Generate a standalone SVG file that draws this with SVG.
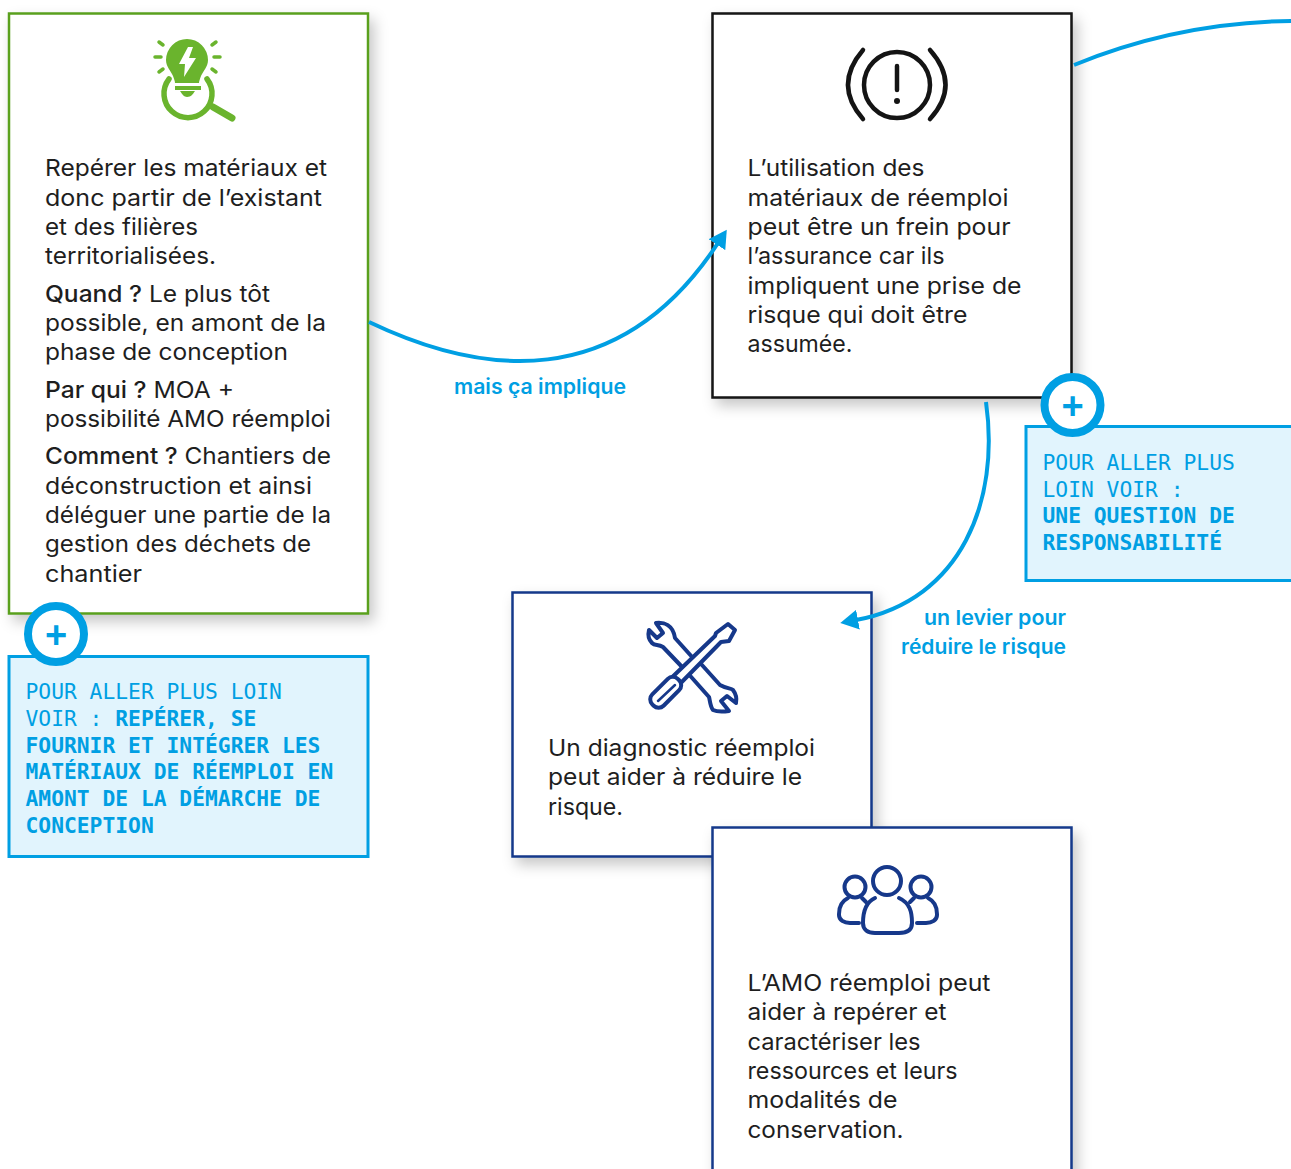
<svg xmlns="http://www.w3.org/2000/svg" width="1291" height="1169" viewBox="0 0 1291 1169">
<defs>
<filter id="sh" x="-10%" y="-10%" width="125%" height="125%"><feDropShadow dx="5" dy="7" stdDeviation="7" flood-color="#000" flood-opacity="0.22"/></filter>
<marker id="arr" viewBox="0 0 18 20" refX="2" refY="10" markerWidth="18" markerHeight="20" markerUnits="userSpaceOnUse" orient="auto"><path d="M18,10 L0,0 L0,20 Z" fill="#009fe3"/></marker>
</defs>
<style>
.card{fill:#fff;stroke-width:2.5;filter:url(#sh)}
.t{font-family:"Inter","Noto Sans",sans-serif;font-size:23px;fill:#1e1e1e}
.t .b{font-weight:500}
.m{font-family:"DejaVu Sans Mono","Liberation Mono",monospace;font-size:21.3px;fill:#009fe3}
.m .b{font-weight:700}
.l{font-family:"Inter","Noto Sans",sans-serif;font-size:20.5px;font-weight:600;fill:#009fe3}
.co{fill:#e1f4fd;stroke:#009fe3;stroke-width:3}
.ci{fill:#fff;stroke:#009fe3;stroke-width:8}
.pl{font-family:"Liberation Sans",sans-serif;font-size:38px;font-weight:700;fill:#009fe3;text-anchor:middle}
.c{fill:none;stroke:#009fe3;stroke-width:4}
.nv{fill:none;stroke:#16388a;stroke-width:4;stroke-linejoin:round;stroke-linecap:round}
.gr{fill:none;stroke:#6ab42d;stroke-linecap:round}
.bk{fill:none;stroke:#141414;stroke-width:4.5;stroke-linecap:round}
</style>

<g id="node-blue-diagnostic">
<rect class="card" x="512.5" y="592.5" width="359" height="264" stroke="#16388a"/>
<g>
<path class="nv" d="M656,623 C664,622 673,625 675,638 L693,658 L702,665 L720,685 C727,689 731,688 733,690 C736,694 737,698 736,703 L727,696 L721,701 L729,711 C722,712 717,712 713,710 C710,706 710,700 709,697 L685,670 L663,647 C658,644 655,646 652,643 C648,639 648,634 649,630 L657,638 L663,633 Z"/>
<path class="nv" style="fill:#fff" d="M728,624 L735,630 L729,641 L721,642 L672,692 L664,685 L715,636 L716,633 Z"/>
<rect class="nv" style="fill:#fff" x="648" y="685" width="36" height="16" rx="7" transform="rotate(-45 665 693)"/>
<path class="nv" style="stroke-width:2.500" d="M675,685 L658,701"/>
</g>
<text class="t" x="548" y="756" textLength="267" lengthAdjust="spacingAndGlyphs">Un diagnostic réemploi</text>
<text class="t" x="548" y="785" textLength="254" lengthAdjust="spacingAndGlyphs">peut aider à réduire le</text>
<text class="t" x="548" y="815" textLength="75" lengthAdjust="spacingAndGlyphs">risque.</text>
</g>

<g id="node-green">
<rect class="card" x="9" y="13.5" width="359" height="600" stroke="#5aa01f"/>
<g>
<path fill="#6ab42d" d="M166,60 a21,21 0 1 1 42,0 c0,7 -5,11 -7,16 c-1,3 -2,5 -2,7 h-24 c0,-2 -1,-4 -2,-7 c-2,-5 -7,-9 -7,-16z"/>
<path fill="#fff" d="M188,47 L179,64 L185,64 L184,77 L196,58 L189,58 L193,47 Z"/>
<rect x="175" y="86" width="26" height="4" fill="#6ab42d"/>
<path fill="#6ab42d" d="M180,91 h15 c-2,3 -4,6 -8,6 c-3,0 -5,-3 -7,-6z"/>
<path class="gr" stroke-width="5.500" d="M169,79 A24,24 0 1 0 207,79"/>
<path class="gr" stroke-width="7" d="M213,107 L232,118"/>
<path class="gr" stroke-width="3.500" d="M159,42 L163,45 M155,57 L161,57 M159,72 L163,69 M216,42 L212,45 M220,57 L214,57 M216,72 L212,69"/>
</g>
<text class="t" x="45" y="176" textLength="282" lengthAdjust="spacingAndGlyphs">Repérer les matériaux et</text>
<text class="t" x="45" y="206" textLength="277" lengthAdjust="spacingAndGlyphs">donc partir de l’existant</text>
<text class="t" x="45" y="235" textLength="153" lengthAdjust="spacingAndGlyphs">et des filières</text>
<text class="t" x="45" y="264" textLength="171" lengthAdjust="spacingAndGlyphs">territorialisées.</text>
<text class="t" x="45" y="302" textLength="225" lengthAdjust="spacingAndGlyphs"><tspan class="b">Quand ?</tspan> Le plus tôt</text>
<text class="t" x="45" y="331" textLength="281" lengthAdjust="spacingAndGlyphs">possible, en amont de la</text>
<text class="t" x="45" y="360" textLength="243" lengthAdjust="spacingAndGlyphs">phase de conception</text>
<text class="t" x="45" y="398" textLength="189" lengthAdjust="spacingAndGlyphs"><tspan class="b">Par qui ?</tspan> MOA +</text>
<text class="t" x="45" y="427" textLength="286" lengthAdjust="spacingAndGlyphs">possibilité AMO réemploi</text>
<text class="t" x="45" y="464" textLength="286" lengthAdjust="spacingAndGlyphs"><tspan class="b">Comment ?</tspan> Chantiers de</text>
<text class="t" x="45" y="494" textLength="267" lengthAdjust="spacingAndGlyphs">déconstruction et ainsi</text>
<text class="t" x="45" y="523" textLength="286" lengthAdjust="spacingAndGlyphs">déléguer une partie de la</text>
<text class="t" x="45" y="552" textLength="266" lengthAdjust="spacingAndGlyphs">gestion des déchets de</text>
<text class="t" x="45" y="581.500" textLength="97" lengthAdjust="spacingAndGlyphs">chantier</text>
</g>

<g id="node-black">
<rect class="card" x="712.5" y="13.5" width="359" height="384" stroke="#141414"/>
<g>
<circle class="bk" cx="897" cy="85" r="33"/>
<path class="bk" d="M897,66 L897,90 M863,50 Q833,85 863,119 M930,50 Q961,85 930,119"/>
<circle cx="897" cy="101" r="3" fill="#141414"/>
</g>
<text class="t" x="747.500" y="176" textLength="177" lengthAdjust="spacingAndGlyphs">L’utilisation des</text>
<text class="t" x="747.500" y="206" textLength="261" lengthAdjust="spacingAndGlyphs">matériaux de réemploi</text>
<text class="t" x="747.500" y="235" textLength="263" lengthAdjust="spacingAndGlyphs">peut être un frein pour</text>
<text class="t" x="747.500" y="264" textLength="197" lengthAdjust="spacingAndGlyphs">l’assurance car ils</text>
<text class="t" x="747.500" y="294" textLength="274" lengthAdjust="spacingAndGlyphs">impliquent une prise de</text>
<text class="t" x="747.500" y="323" textLength="220" lengthAdjust="spacingAndGlyphs">risque qui doit être</text>
<text class="t" x="747.500" y="352" textLength="105" lengthAdjust="spacingAndGlyphs">assumée.</text>
</g>

<g id="node-blue-amo">
<rect class="card" x="712.5" y="827.5" width="359" height="360" stroke="#16388a"/>
<g>
<circle class="nv" cx="887" cy="881" r="14"/>
<circle class="nv" cx="855" cy="887" r="10.500"/>
<circle class="nv" cx="921" cy="887" r="10.500"/>
<path class="nv" d="M875,898 C864,903 863,915 863,923 C863,930 868,933 875,933 H899 C907,933 912,930 912,923 C912,912 910,903 899,898"/>
<path class="nv" d="M848,898 C838,903 839,912 839,915 C839,920 844,923 850,923 H859 M862,898 L866,902"/>
<path class="nv" d="M928,898 C938,903 937,912 937,915 C937,920 932,923 926,923 H917 M914,898 L910,902"/>
</g>
<text class="t" x="747.500" y="991" textLength="243" lengthAdjust="spacingAndGlyphs">L’AMO réemploi peut</text>
<text class="t" x="747.500" y="1020" textLength="199" lengthAdjust="spacingAndGlyphs">aider à repérer et</text>
<text class="t" x="747.500" y="1050" textLength="173" lengthAdjust="spacingAndGlyphs">caractériser les</text>
<text class="t" x="747.500" y="1079" textLength="210" lengthAdjust="spacingAndGlyphs">ressources et leurs</text>
<text class="t" x="747.500" y="1108" textLength="150" lengthAdjust="spacingAndGlyphs">modalités de</text>
<text class="t" x="747.500" y="1138" textLength="156" lengthAdjust="spacingAndGlyphs">conservation.</text>
</g>

<g id="note-left">
<rect class="co" x="9" y="656.5" width="359" height="200"/>
<circle class="ci" cx="56" cy="634" r="28"/>
<text class="pl" x="56" y="648">+</text>
<text class="m" x="25.500" y="699">POUR ALLER PLUS LOIN</text>
<text class="m" x="25.500" y="726">VOIR : <tspan class="b">REPÉRER, SE</tspan></text>
<text class="m" style="font-weight:700" x="25.500" y="752.500">FOURNIR ET INTÉGRER LES</text>
<text class="m" style="font-weight:700" x="25.500" y="779">MATÉRIAUX DE RÉEMPLOI EN</text>
<text class="m" style="font-weight:700" x="25.500" y="806">AMONT DE LA DÉMARCHE DE</text>
<text class="m" style="font-weight:700" x="25.500" y="833">CONCEPTION</text>
</g>

<g id="note-right">
<rect class="co" x="1026" y="426.5" width="275" height="154"/>
<circle class="ci" cx="1072.500" cy="405" r="28"/>
<text class="pl" x="1072.500" y="419">+</text>
<text class="m" x="1042.500" y="469.500">POUR ALLER PLUS</text>
<text class="m" x="1042.500" y="496.500">LOIN VOIR :</text>
<text class="m" style="font-weight:700" x="1042.500" y="522.500">UNE QUESTION DE</text>
<text class="m" style="font-weight:700" x="1042.500" y="549.500">RESPONSABILITÉ</text>
</g>

<g id="connectors">
<path class="c" marker-end="url(#arr)" d="M369,322 C480,375 618,395 718,243"/>
<path class="c" marker-end="url(#arr)" d="M986,402 C1000,500 962,600 856,620"/>
<path class="c" d="M1074,65 C1140,38 1210,22 1291,21"/>
<text class="l" x="454" y="394" textLength="172" lengthAdjust="spacingAndGlyphs">mais ça implique</text>
<text class="l" x="924" y="624.500" textLength="142" lengthAdjust="spacingAndGlyphs">un levier pour</text>
<text class="l" x="901" y="653.500" textLength="165" lengthAdjust="spacingAndGlyphs">réduire le risque</text>
</g>
</svg>
